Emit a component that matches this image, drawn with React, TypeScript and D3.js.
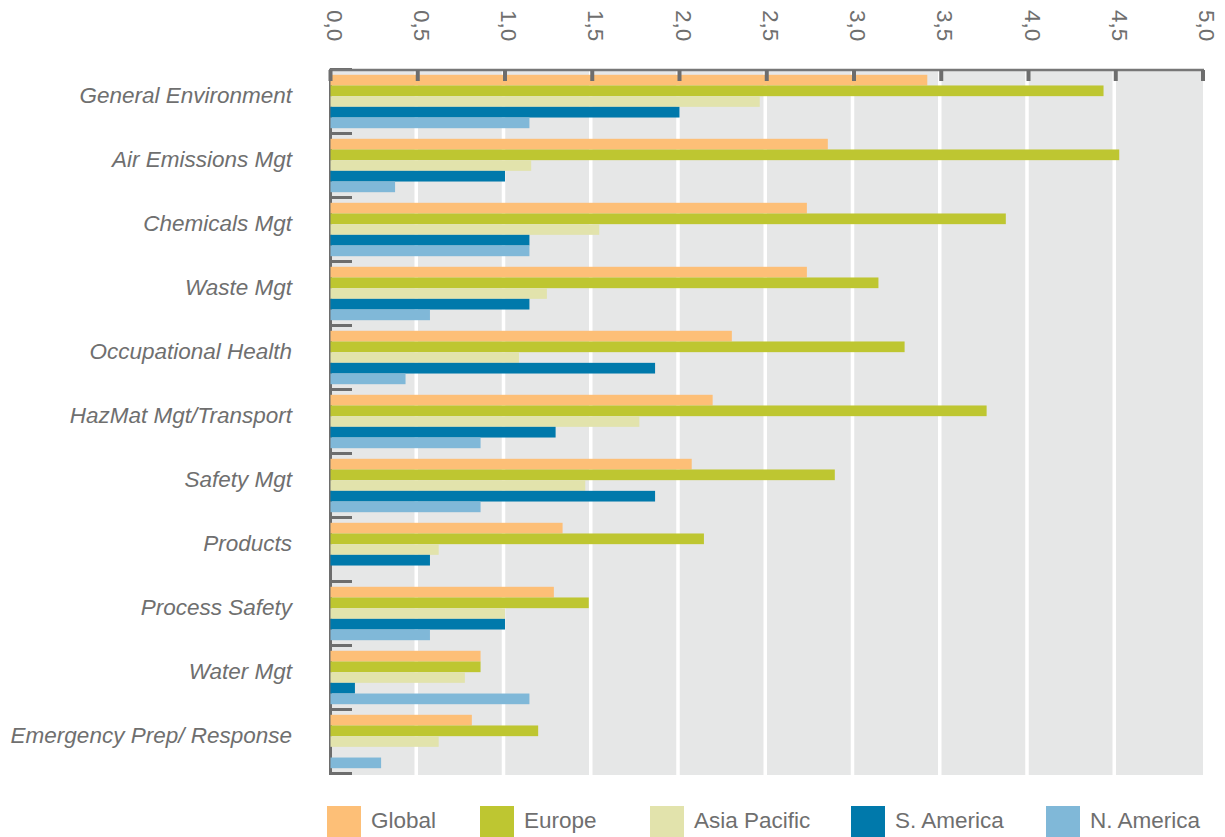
import React, { useEffect, useRef } from 'react';
import * as d3 from 'd3';

const categories = [
  'General Environment',
  'Air Emissions Mgt',
  'Chemicals Mgt',
  'Waste Mgt',
  'Occupational Health',
  'HazMat Mgt/Transport',
  'Safety Mgt',
  'Products',
  'Process Safety',
  'Water Mgt',
  'Emergency Prep/ Response',
];

const seriesNames = ['Global', 'Europe', 'Asia Pacific', 'S. America', 'N. America'];
const seriesColors = ['#fdbf77', '#bec631', '#e2e3ac', '#0079ab', '#80b8d8'];

const globalValues = [3.42, 2.85, 2.73, 2.73, 2.3, 2.19, 2.07, 1.33, 1.28, 0.86, 0.81];
const europeValues = [4.43, 4.52, 3.87, 3.14, 3.29, 3.76, 2.89, 2.14, 1.48, 0.86, 1.19];
const asiaValues = [2.46, 1.15, 1.54, 1.24, 1.08, 1.77, 1.46, 0.62, 1.0, 0.77, 0.62];
const southAmericaValues = [2.0, 1.0, 1.14, 1.14, 1.86, 1.29, 1.86, 0.57, 1.0, 0.14, 0];
const northAmericaValues = [1.14, 0.37, 1.14, 0.57, 0.43, 0.86, 0.86, 0, 0.57, 1.14, 0.29];

const xTicks = [0, 0.5, 1, 1.5, 2, 2.5, 3, 3.5, 4, 4.5, 5];

export default function App() {
  const svgRef = useRef<SVGSVGElement>(null);

  useEffect(() => {
    if (!svgRef.current) return;

    const width = 1225;
    const height = 837;
    const font = '"Liberation Sans", Arial, sans-serif';
    const textColor = '#6f6f6f';
    const axisColor = '#6d6d6d';

    const allSeries = [globalValues, europeValues, asiaValues, southAmericaValues, northAmericaValues];

    d3.select(svgRef.current).selectAll('*').remove();
    const svg = d3.select(svgRef.current)
      .attr('width', width)
      .attr('height', height);

    // scales
    const x = d3.scaleLinear().domain([0, 5]).range([330.5, 1203]);
    const y = d3.scaleBand<string>().domain(categories).range([69.5, 773.5]);
    const ySub = d3.scaleBand<string>()
      .domain(seriesNames)
      .range([5.3, y.bandwidth() - 5.3]);

    // plot background
    svg.append('rect')
      .attr('x', x(0))
      .attr('y', 70)
      .attr('width', x(5) - x(0))
      .attr('height', 705)
      .attr('fill', '#e6e7e7');

    // white gridlines
    svg.append('g')
      .selectAll('line')
      .data(xTicks.slice(1, -1))
      .join('line')
      .attr('x1', d => x(d) - 1.5)
      .attr('x2', d => x(d) - 1.5)
      .attr('y1', 70)
      .attr('y2', 775)
      .attr('stroke', '#ffffff')
      .attr('stroke-width', 3.5);

    // left axis line + ticks at category boundaries
    svg.append('line')
      .attr('x1', 330.5)
      .attr('x2', 330.5)
      .attr('y1', 69)
      .attr('y2', 775)
      .attr('stroke', axisColor)
      .attr('stroke-width', 3);

    const boundaries = categories.map(c => y(c) as number).concat([y.range()[1]]);
    svg.append('g')
      .selectAll('line')
      .data(boundaries)
      .join('line')
      .attr('x1', 330)
      .attr('x2', 352)
      .attr('y1', d => d)
      .attr('y2', d => d)
      .attr('stroke', axisColor)
      .attr('stroke-width', 3);

    // bars
    const groups = svg.append('g')
      .selectAll('g')
      .data(categories)
      .join('g')
      .attr('transform', c => `translate(0,${y(c)})`);

    groups.selectAll('rect')
      .data((c, i) => allSeries.map((s, k) => ({ name: seriesNames[k], value: s[i], color: seriesColors[k] })))
      .join('rect')
      .attr('x', x(0))
      .attr('y', d => ySub(d.name) as number)
      .attr('width', d => x(d.value) - x(0))
      .attr('height', ySub.bandwidth())
      .attr('fill', d => d.color);

    // top axis
    svg.append('line')
      .attr('x1', 329)
      .attr('x2', x(5) + 1)
      .attr('y1', 70)
      .attr('y2', 70)
      .attr('stroke', '#777777')
      .attr('stroke-width', 2.5);

    svg.append('g')
      .selectAll('line')
      .data(xTicks)
      .join('line')
      .attr('x1', d => x(d))
      .attr('x2', d => x(d))
      .attr('y1', 70)
      .attr('y2', 81)
      .attr('stroke', axisColor)
      .attr('stroke-width', 4);

    svg.append('g')
      .selectAll('text')
      .data(xTicks)
      .join('text')
      .attr('transform', d => `translate(${x(d) - 4},10) rotate(90)`)
      .attr('font-family', font)
      .attr('font-size', 22.5)
      .attr('fill', textColor)
      .attr('text-anchor', 'start')
      .text(d => d.toFixed(1).replace('.', ','));

    // category labels
    svg.append('g')
      .selectAll('text')
      .data(categories)
      .join('text')
      .attr('x', 292)
      .attr('y', c => (y(c) as number) + y.bandwidth() / 2 + 1)
      .attr('text-anchor', 'end')
      .attr('font-family', font)
      .attr('font-style', 'italic')
      .attr('font-size', 22.5)
      .attr('fill', textColor)
      .text(c => c);

    // legend
    const legendX = [327, 480, 650, 851, 1046];
    const legend = svg.append('g')
      .selectAll('g')
      .data(seriesNames)
      .join('g')
      .attr('transform', (d, i) => `translate(${legendX[i]},806)`);

    legend.append('rect')
      .attr('width', 34)
      .attr('height', 34)
      .attr('fill', (d, i) => seriesColors[i]);

    legend.append('text')
      .attr('x', 44)
      .attr('y', 22)
      .attr('font-family', font)
      .attr('font-size', 22.5)
      .attr('fill', textColor)
      .text(d => d);
  }, []);

  return (
    <div style={{ position: 'absolute', left: 0, top: 0 }}>
      <svg ref={svgRef} style={{ display: 'block' }} />
    </div>
  );
}
